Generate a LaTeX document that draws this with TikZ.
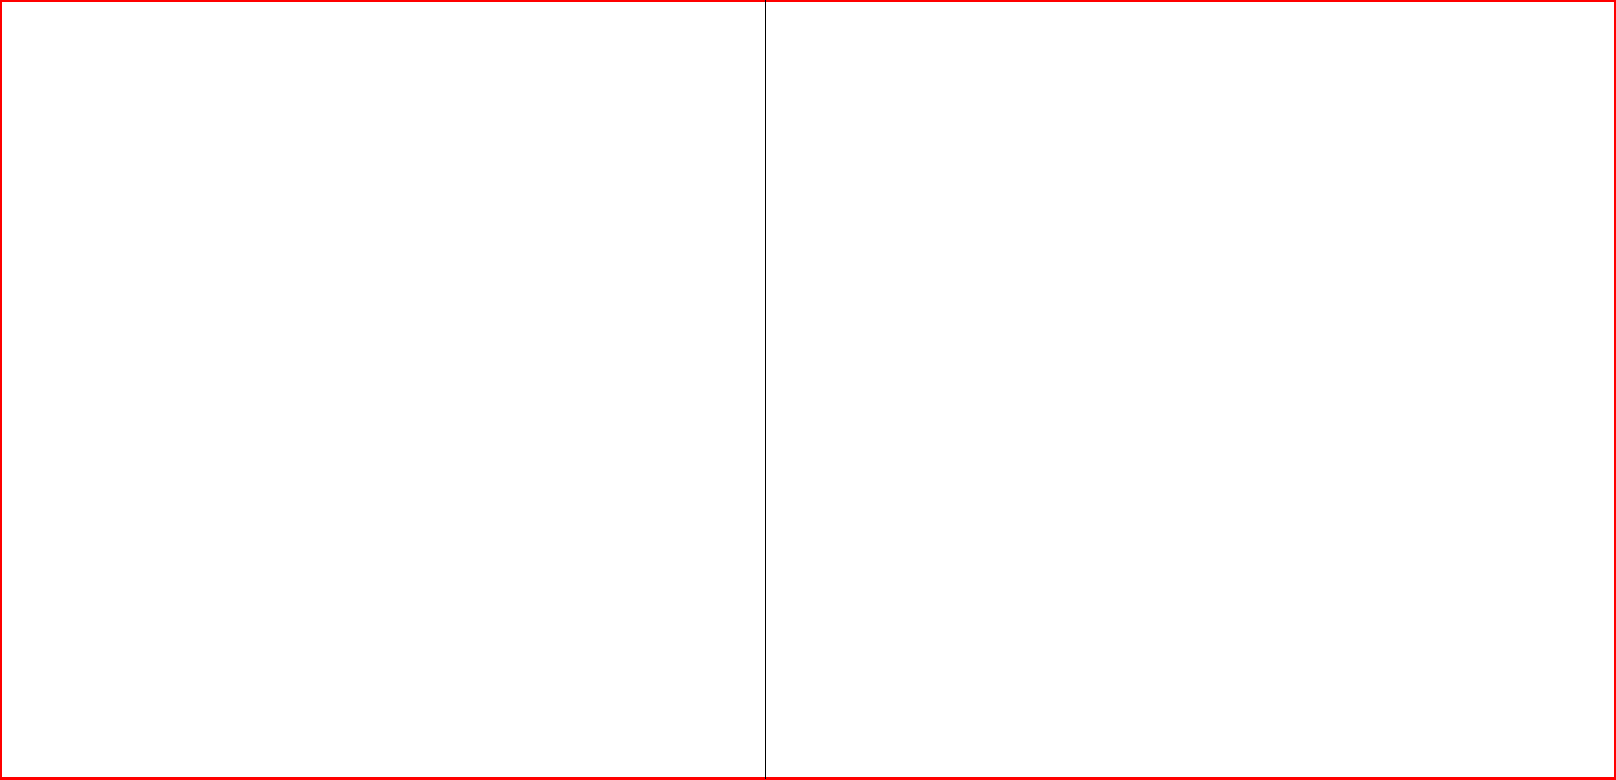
\documentclass[tikz,border=0pt]{standalone}
\begin{document}
\begin{tikzpicture}[x=1pt,y=-1pt]
\useasboundingbox (0,0) rectangle (1616,779);
\draw[red,line width=4pt] (0,0) rectangle (1616,779);
\draw (765,0) -- (765,779);
\end{tikzpicture}
\end{document}
